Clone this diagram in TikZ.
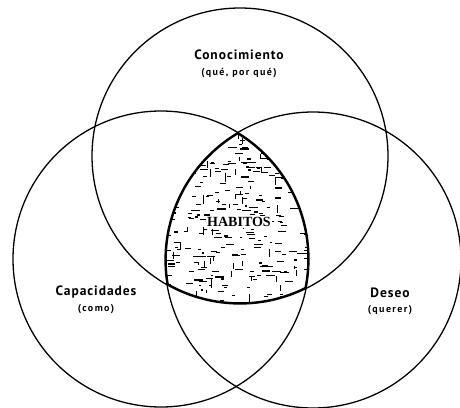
\documentclass[tikz,border=0pt]{standalone}
\usepackage{fontspec}
\setmainfont{Liberation Serif}
\newfontfamily\labelfont[LetterSpace=7]{PT Sans}
\newfontfamily\notefont[LetterSpace=14]{PT Sans}
\usepackage{tikz}

\begin{document}
\begin{tikzpicture}[x=1pt,y=-1pt]
  \useasboundingbox (0,0) rectangle (460,407); % frame of the picture
  \clip (0,0) rectangle (460,407);

  \coordinate (K) at (240,156); % Center of the top circle
  \coordinate (C) at (161,259); % Center of the left circle
  \coordinate (D) at (313,260); % Center of the right circle
  \def\rad{148}

  % Shaded common part
  \begin{scope}
    \clip (K) circle (\rad);
    \clip (C) circle (\rad);
    \clip (D) circle (\rad);
    \pgfmathsetseed{11}
    \foreach \i in {1,...,300}{
      \pgfmathsetmacro{\px}{165+150*rnd}
      \pgfmathsetmacro{\py}{128+178*rnd}
      \pgfmathsetmacro{\pl}{2+7*rnd}
      \draw[line width=1.1pt] (\px,\py) -- ++(\pl,0);
    }
    \foreach \i in {1,...,60}{
      \pgfmathsetmacro{\px}{165+150*rnd}
      \pgfmathsetmacro{\py}{128+178*rnd}
      \pgfmathsetmacro{\pl}{3+6*rnd}
      \draw[line width=1pt] (\px,\py) -- ++(0,\pl);
    }
    % thick rim of the common part
    \draw[line width=3.6pt] (K) circle (\rad);
    \draw[line width=3.6pt] (C) circle (\rad);
    \draw[line width=3.6pt] (D) circle (\rad);
  \end{scope}

  % The three circles
  \draw[line width=1.3pt] (K) circle (\rad);
  \draw[line width=1.3pt] (C) circle (\rad);
  \draw[line width=1.3pt] (D) circle (\rad);

  % Labels
  \node (know) at (239,55) {\labelfont\bfseries\fontsize{13.5}{15}\selectfont Conocimiento};
  \node (why) at (239,73) {\notefont\bfseries\fontsize{10}{12}\selectfont (qué, por qué)};
  \node (skill) at (96,292) {\labelfont\bfseries\fontsize{13.5}{15}\selectfont Capacidades};
  \node (how) at (96,309) {\notefont\bfseries\fontsize{10}{12}\selectfont (como)};
  \node (wish) at (390,293) {\labelfont\bfseries\fontsize{13.5}{15}\selectfont Deseo};
  \node (want) at (390,310) {\notefont\bfseries\fontsize{10}{12}\selectfont (querer)};

  % Center label
  \node[fill=white,inner sep=1pt] (habit) at (239,222) {\bfseries\fontsize{14}{16}\selectfont HABITOS};
\end{tikzpicture}
\end{document}
